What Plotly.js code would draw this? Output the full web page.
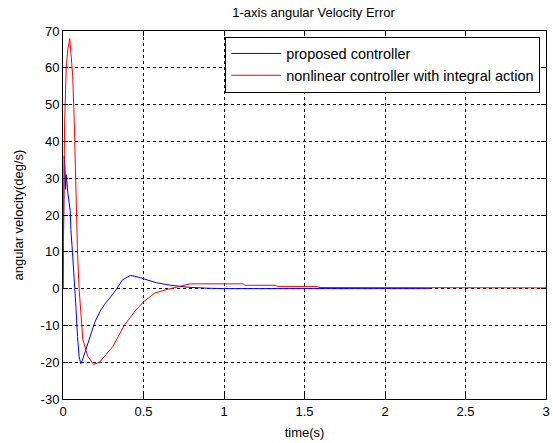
<!DOCTYPE html>
<html><head><meta charset="utf-8">
<script src="https://cdn.plot.ly/plotly-3.0.1.min.js"></script>
<style>html,body{margin:0;padding:0;background:#fff}#chart{width:553px;height:443px}</style>
</head><body><div id="chart"></div>
<script>
const titleText = "1-axis angular Velocity Error";
const xLabel = "time(s)";
const yLabel = "angular velocity(deg/s)";
const seriesNames = ["proposed controller", "nonlinear controller with integral action"];

const tProposed = [0, 0.004, 0.008, 0.012, 0.016, 0.02, 0.03, 0.045, 0.049, 0.059, 0.07, 0.08, 0.09, 0.1, 0.11, 0.12, 0.142, 0.17, 0.196, 0.23, 0.258, 0.3, 0.33, 0.37, 0.42, 0.46, 0.5, 0.58, 0.67, 0.78, 0.9, 1.0, 1.5, 2.0, 2.28];
const vProposed = [0, 28, 36, 33, 27, 31, 26, 21, 16, 9.8, 3.3, -4.8, -13, -18.4, -20.4, -19.5, -16.6, -13, -9.3, -6.2, -4.3, -2, -0.3, 2.4, 3.6, 3.2, 2.6, 1.6, 0.9, 0.35, 0.1, 0, 0, 0, 0];

const tNonlinear = [0, 0.005, 0.01, 0.02, 0.03, 0.042, 0.05, 0.06, 0.07, 0.08, 0.09, 0.1, 0.11, 0.123, 0.154, 0.19, 0.227, 0.258, 0.31, 0.38, 0.45, 0.5, 0.57, 0.64, 0.72, 0.79, 0.85, 1.12, 1.13, 1.32, 1.33, 1.58, 1.59, 2.0, 3.0];
const vNonlinear = [0, 20, 45, 60, 65, 68, 64, 58, 45, 25, 10, 0, -7.5, -13.8, -18.4, -20.6, -20, -18.4, -15.7, -10, -6, -3.6, -1.2, -0.3, 0.6, 1.3, 1.3, 1.3, 0.9, 0.9, 0.6, 0.6, 0.3, 0.25, 0.2];

const xTicks = [0, 0.5, 1, 1.5, 2, 2.5, 3];
const yTicks = [-30, -20, -10, 0, 10, 20, 30, 40, 50, 60, 70];

const fam = "Liberation Sans, Arial, sans-serif";
const font = {family: fam, size: 13, color: "#000"};
const axisCommon = {
  showline: true, mirror: "ticks", linecolor: "#000", linewidth: 1,
  ticks: "inside", ticklen: 5, tickcolor: "#000",
  showgrid: true, gridcolor: "#000", griddash: "3px,3px", gridwidth: 1,
  zeroline: false, tickfont: font
};

const data = [
  {x: tProposed, y: vProposed, mode: "lines", name: seriesNames[0], line: {color: "#0000ff", width: 1}},
  {x: tNonlinear, y: vNonlinear, mode: "lines", name: seriesNames[1], line: {color: "#ff0000", width: 1}}
];

const layout = {
  width: 553, height: 443,
  margin: {l: 63, r: 7, t: 31, b: 44},
  paper_bgcolor: "#fff", plot_bgcolor: "#fff",
  font: font,
  title: {text: titleText, font: {family: fam, size: 13, color: "#000"}, xref: "container", x: 0.567, xanchor: "center", y: 0.973, yanchor: "middle"},
  xaxis: Object.assign({}, axisCommon, {range: [0, 3], tickvals: xTicks, ticktext: xTicks.map(String),
    title: {text: xLabel, font: font, standoff: 10}}),
  yaxis: Object.assign({}, axisCommon, {range: [-30, 70], tickvals: yTicks, ticktext: yTicks.map(String),
    title: {text: yLabel, font: font, standoff: 14}}),
  showlegend: true,
  legend: {x: 0.988, y: 0.985, xanchor: "right", yanchor: "top", bgcolor: "#fff", bordercolor: "#000", borderwidth: 1,
    itemwidth: 50, font: {family: fam, size: 14.5, color: "#000"}, tracegroupgap: 0}
};

Plotly.newPlot("chart", data, layout, {staticPlot: true, displayModeBar: false});
</script>
</body></html>
